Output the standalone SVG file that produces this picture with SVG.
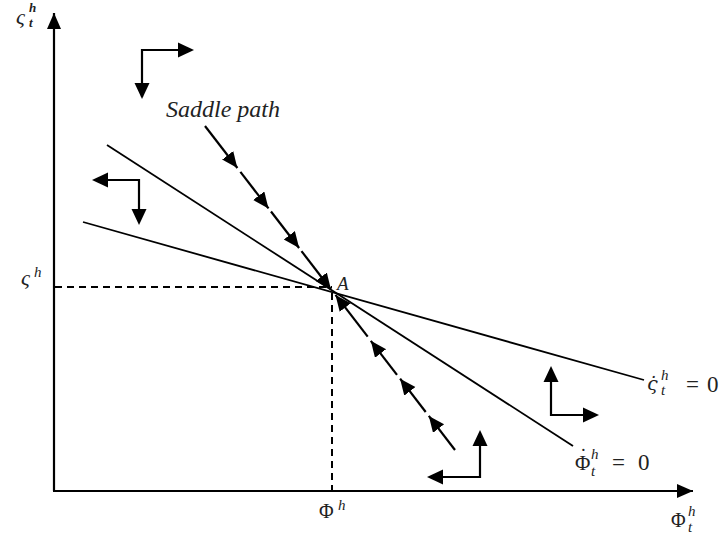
<svg xmlns="http://www.w3.org/2000/svg" width="721" height="535" viewBox="0 0 721 535">
<style>
.ax{stroke:#000;stroke-width:2.2;fill:none}
.ln{stroke:#000;stroke-width:1.8;fill:none}
.dash{stroke:#000;stroke-width:2;stroke-dasharray:7,5;fill:none}
.sp{stroke:#000;stroke-width:2.2;fill:none;marker-end:url(#ah)}
.dir{stroke:#000;stroke-width:2.2;fill:none}
.m{font-family:"Liberation Serif","Times New Roman","DejaVu Serif",serif;fill:#222}
.d{font-family:"DejaVu Serif",serif}
.i{font-style:italic}
</style>
<defs>
<marker id="ah" markerUnits="userSpaceOnUse" markerWidth="18" markerHeight="16" refX="16" refY="7" orient="auto">
<path d="M0,0 L16,7 L0,14 Z" fill="#000"/>
</marker>
<marker id="axh" markerUnits="userSpaceOnUse" markerWidth="18" markerHeight="16" refX="16" refY="7" orient="auto">
<path d="M0,0 L16,7 L0,14 Z" fill="#000"/>
</marker>
</defs>

<g id="axes">
<line class="ax" x1="54" y1="491" x2="54" y2="13" marker-end="url(#axh)"/>
<line class="ax" x1="53" y1="491" x2="693" y2="491" marker-end="url(#axh)"/>
</g>

<g id="connectors">
<line class="dash" x1="55" y1="287" x2="332" y2="287"/>
<line class="dash" x1="332" y1="293" x2="332" y2="490"/>
<line id="phi-dot" class="ln" x1="107" y1="145" x2="573" y2="446"/>
<line id="zeta-dot" class="ln" x1="83" y1="222" x2="644" y2="380"/>
<g id="saddle-upper">
<line class="sp" x1="205" y1="126" x2="237.4" y2="168"/>
<line class="sp" x1="240.4" y1="171.9" x2="268.5" y2="208.4"/>
<line class="sp" x1="271" y1="211.5" x2="299.1" y2="248"/>
<line class="sp" x1="301.5" y1="251.1" x2="331" y2="289.5"/>
</g>
<g id="saddle-lower">
<line class="sp" x1="455" y1="450" x2="428.8" y2="415.9"/>
<line class="sp" x1="425.7" y1="412" x2="400.1" y2="378.7"/>
<line class="sp" x1="397" y1="374.8" x2="370.8" y2="340.8"/>
<line class="sp" x1="367.7" y1="336.7" x2="335.5" y2="294.9"/>
</g>
</g>

<g id="dir-top">
<polyline class="dir" points="142,97 142,50 180,50"/>
<path d="M178,42.5 L194,50 L178,57.5 Z"/>
<path d="M134.5,83 L142,99 L149.5,83 Z"/>
</g>
<g id="dir-left">
<polyline class="dir" points="106,180 139,180 139,211"/>
<path d="M108,172.5 L92,180 L108,187.5 Z"/>
<path d="M131.5,209 L139,225 L146.5,209 Z"/>
</g>
<g id="dir-right">
<polyline class="dir" points="551,380 551,415 585,415"/>
<path d="M543.5,382 L551,366 L558.5,382 Z"/>
<path d="M583,407.5 L599,415 L583,422.5 Z"/>
</g>
<g id="dir-bottom">
<polyline class="dir" points="480,444 480,477 441,477"/>
<path d="M472.5,446 L480,430 L487.5,446 Z"/>
<path d="M443,469.5 L427,477 L443,484.5 Z"/>
</g>

<g id="labels">
<text class="m i" font-size="22"><tspan x="16" y="24">ς</tspan><tspan x="29" y="12" font-size="13" font-weight="bold">h</tspan><tspan x="29" y="27" font-size="13" font-weight="bold">t</tspan></text>

<text class="m i" x="166" y="117" font-size="24">Saddle path</text>
<text class="m i" x="337" y="290" font-size="19">A</text>

<text class="m i" font-size="22"><tspan x="21" y="285">ς</tspan><tspan x="34" y="277" font-size="15">h</tspan></text>

<text class="m" font-size="20"><tspan x="319" y="518">Φ</tspan><tspan x="338" y="510" font-size="15" font-style="italic">h</tspan></text>

<text class="m" font-size="22"><tspan class="d" x="647" y="390" font-size="19" font-style="italic">ς̇</tspan><tspan x="661" y="380" font-size="15" font-style="italic">h</tspan><tspan x="661" y="395" font-size="15" font-style="italic">t</tspan><tspan x="686" y="392" font-size="23">=</tspan><tspan x="707" y="392" font-size="23">0</tspan></text>

<text class="m" font-size="21"><tspan x="575" y="470">Φ</tspan><tspan x="580" y="463" font-size="20">˙</tspan><tspan x="591" y="459" font-size="15" font-style="italic">h</tspan><tspan x="591" y="476" font-size="15" font-style="italic">t</tspan><tspan x="612" y="470" font-size="23">=</tspan><tspan x="638" y="470" font-size="23">0</tspan></text>

<text class="m" font-size="20"><tspan x="671" y="527">Φ</tspan><tspan x="688" y="516" font-size="15" font-style="italic">h</tspan><tspan x="688" y="532" font-size="15" font-style="italic">t</tspan></text>
</g>
</svg>
